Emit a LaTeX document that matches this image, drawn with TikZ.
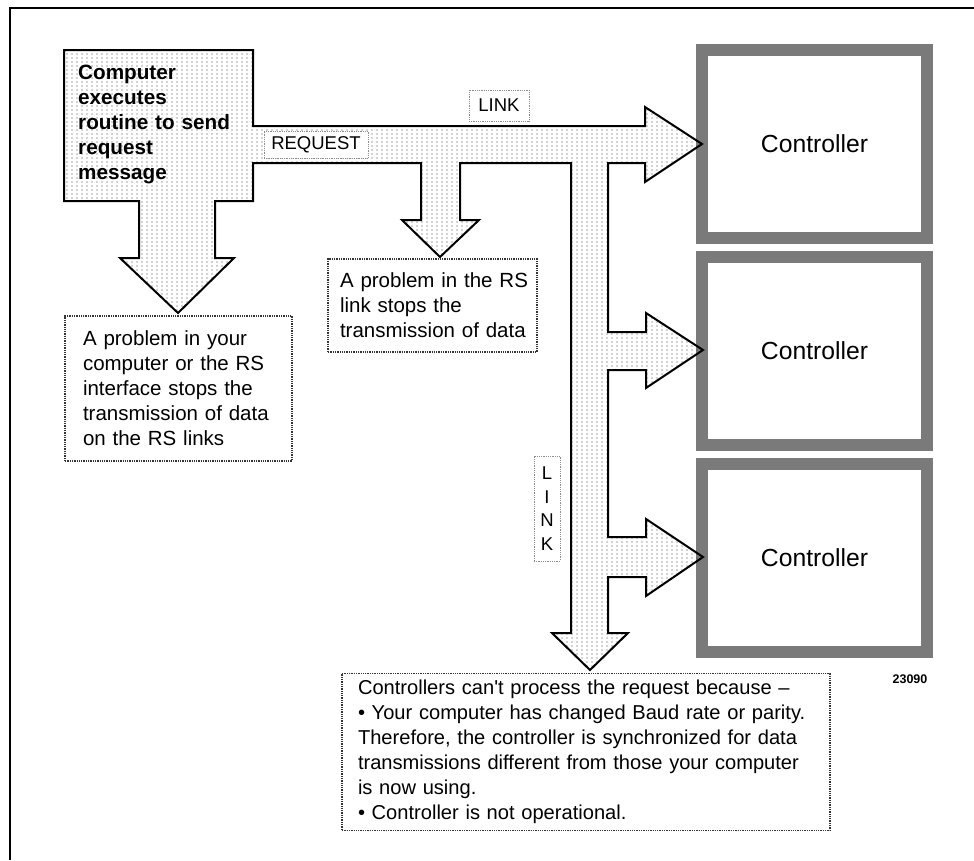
\documentclass[tikz,border=0pt]{standalone}
\usepackage{fontspec}
\setmainfont{Liberation Sans}[Ligatures=TeXOff]
\usetikzlibrary{patterns}
\pgfdeclarepatternformonly{mydots}{\pgfqpoint{-1pt}{-1pt}}{\pgfqpoint{5pt}{4pt}}{\pgfqpoint{5pt}{4pt}}{%
  \pgfpathcircle{\pgfqpoint{2pt}{2pt}}{0.6pt}\pgfusepath{fill}}
\newcommand\oneline[1]{\mbox{#1}}
\tikzset{
  bigarrow/.style={draw=black, line width=2pt, line join=miter, pattern=mydots, pattern color=black!75},
  ctrl/.style={draw=black!52, line width=12pt, fill=white, minimum width=225pt, minimum height=188pt,
    font=\fontsize{24.7}{29}\selectfont, inner sep=0pt},
  note/.style={draw=black!80, densely dotted, line width=1.3pt, fill=white, align=left,
    font=\fontsize{20.5}{25}\selectfont, inner ysep=0pt},
  lbl/.style={draw=black!45, densely dotted, line width=0.8pt, fill=white, inner sep=0pt,
    font=\fontsize{18.5}{23.5}\selectfont, align=center},
}
\begin{document}
\begin{tikzpicture}[x=1pt, y=-1pt]
\useasboundingbox (0,0) rectangle (974,860);
% frame
\draw[line width=1.5pt] (10,860) -- (10,8) -- (974,8);
% controllers
\node[ctrl] (c1) at (814.5,144) {Controller};
\node[ctrl] (c2) at (814.5,351) {Controller};
\node[ctrl] (c3) at (814.5,557.5) {Controller};
% big arrow shape
\draw[bigarrow] (64,50) -- (253,50) -- (253,126) -- (645,126) -- (645,107) -- (702,144)
  -- (645,182) -- (645,163) -- (608,163) -- (608,332) -- (646,332) -- (646,313) -- (703,350)
  -- (646,388) -- (646,370) -- (608,370) -- (608,537) -- (646,537) -- (646,519) -- (703,557)
  -- (646,596) -- (646,577) -- (608,577) -- (608,633) -- (628,633) -- (590,670) -- (552,633)
  -- (571,633) -- (571,163) -- (460,163) -- (460,220) -- (479,220) -- (440,257) -- (402,220)
  -- (421,220) -- (421,163) -- (253,163) -- (253,201) -- (215,201) -- (215,258) -- (234,258)
  -- (178,313) -- (120,258) -- (139,258) -- (139,201) -- (64,201) -- cycle;
% computer text
\node[anchor=north west, inner sep=0pt, text width=170pt, align=left,
  font=\fontsize{20.7}{25}\selectfont\bfseries] (comp) at (78,65)
  {Computer\\executes\\routine to send\\request\\message};
% labels
\node[lbl, minimum width=104pt, minimum height=27pt] (req) at (316,144.5) {REQUEST};
\node[lbl, minimum width=60pt, minimum height=31pt] (link1) at (499,105.5) {LINK};
\node[lbl, minimum width=26pt, minimum height=105pt] (link2) at (547,508.5) {L\\I\\N\\K};
% notes
\node[note, minimum width=227pt, minimum height=145pt, inner xsep=18pt, text width=191pt] (n1)
  at (178.5,388.5) {\oneline{A problem in your}\\\oneline{computer or the RS}\\\oneline{interface stops the}\\\oneline{transmission of data}\\\oneline{on the RS links}};
\node[note, minimum width=209pt, minimum height=93pt, inner xsep=12pt, text width=185pt] (n2)
  at (432.5,305.5) {\oneline{A problem in the RS}\\\oneline{link stops the}\\\oneline{transmission of data}};
\node[note, minimum width=488pt, minimum height=157pt, inner xsep=16pt, text width=456pt,
  font=\fontsize{20.1}{25}\selectfont] (n3)
  at (586,752) {\oneline{Controllers can't process the request because –}\\
  \oneline{• Your computer has changed Baud rate or parity.}\\
  \oneline{Therefore, the controller is synchronized for data}\\
  \oneline{transmissions different from those your computer}\\
  \oneline{is now using.}\\
  \oneline{• Controller is not operational.}};
\node[font=\fontsize{12.5}{15}\selectfont\bfseries, inner sep=0pt] (id) at (910,679) {23090};
\end{tikzpicture}
\end{document}
